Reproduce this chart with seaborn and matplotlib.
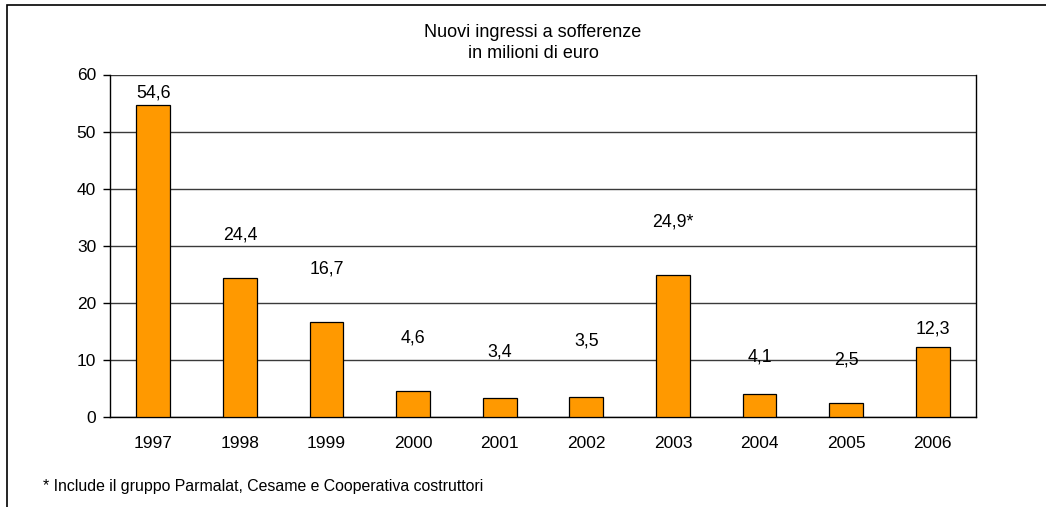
import matplotlib
matplotlib.use("Agg")
import matplotlib.pyplot as plt
import seaborn as sns
import pandas as pd

# Data: new bad-debt inflows, millions of euro
years = ["1997", "1998", "1999", "2000", "2001", "2002", "2003", "2004", "2005", "2006"]
values = [54.6, 24.4, 16.7, 4.6, 3.4, 3.5, 24.9, 4.1, 2.5, 12.3]
value_labels = ["54,6", "24,4", "16,7", "4,6", "3,4", "3,5", "24,9*", "4,1", "2,5", "12,3"]
# vertical placement of each value label (axis units)
label_heights = [56.8, 31.8, 25.9, 13.8, 11.4, 13.3, 34.1, 10.5, 10.0, 15.4]

sns.set_theme(style="white")
plt.rcParams["font.family"] = ["Liberation Sans", "DejaVu Sans"]
plt.rcParams["text.color"] = "black"
plt.rcParams["xtick.labelcolor"] = "black"
plt.rcParams["ytick.labelcolor"] = "black"

df = pd.DataFrame({"anno": years, "valore": values})

fig = plt.figure(figsize=(10.46, 5.07), dpi=100)
ax = fig.add_axes([110 / 1046, 1 - 417 / 507, 866 / 1046, (417 - 74.5) / 507])

sns.barplot(data=df, x="anno", y="valore", order=years, color="#FF9900",
            saturation=1, width=0.39, edgecolor="black", linewidth=0.9,
            ax=ax, zorder=3)

ax.set_ylim(0, 60)
ax.set_xlim(-0.5, len(years) - 0.5)
ax.set_yticks(range(0, 61, 10))
ax.yaxis.grid(True, color="#3a3a3a", linewidth=1.0, zorder=0)
ax.set_axisbelow(True)
ax.set_xlabel("")
ax.set_ylabel("")

for s in ["left", "right", "bottom"]:
    ax.spines[s].set_visible(True)
    ax.spines[s].set_color("black")
    ax.spines[s].set_linewidth(1.0)
ax.spines["top"].set_visible(False)

# category ticks sit between the bars
ax.set_xticks(range(len(years)))
ax.set_xticklabels(years, fontsize=12.5, color="black")
ax.tick_params(axis="x", which="major", length=0, pad=14)
ax.set_xticks([i - 0.5 for i in range(len(years) + 1)], minor=True)
ax.tick_params(axis="x", which="minor", length=5, width=1.0, color="black", direction="out")
ax.tick_params(axis="y", length=5, width=1.0, color="black", direction="out",
               labelsize=12.5, labelcolor="black", left=True, pad=5)

for i, (lab, h) in enumerate(zip(value_labels, label_heights)):
    ax.text(i, h, lab, ha="center", va="center", fontsize=12.8, color="black", zorder=4)

fig.text(533 / 1046, 1 - 43 / 507, "Nuovi ingressi a sofferenze\nin milioni di euro",
         ha="center", va="center", fontsize=13, linespacing=1.38, color="black")

fig.text(43 / 1046, 1 - 487 / 507,
         "* Include il gruppo Parmalat, Cesame e Cooperativa costruttori",
         ha="left", va="center", fontsize=11.4, color="black")

# outer frame
frame = plt.Rectangle((7 / 1046, -0.1), 1.2, 1 - 5 / 507 + 0.1, transform=fig.transFigure,
                      fill=False, edgecolor="black", linewidth=1.2)
fig.patches.append(frame)

fig.savefig("out.png", dpi=100)
